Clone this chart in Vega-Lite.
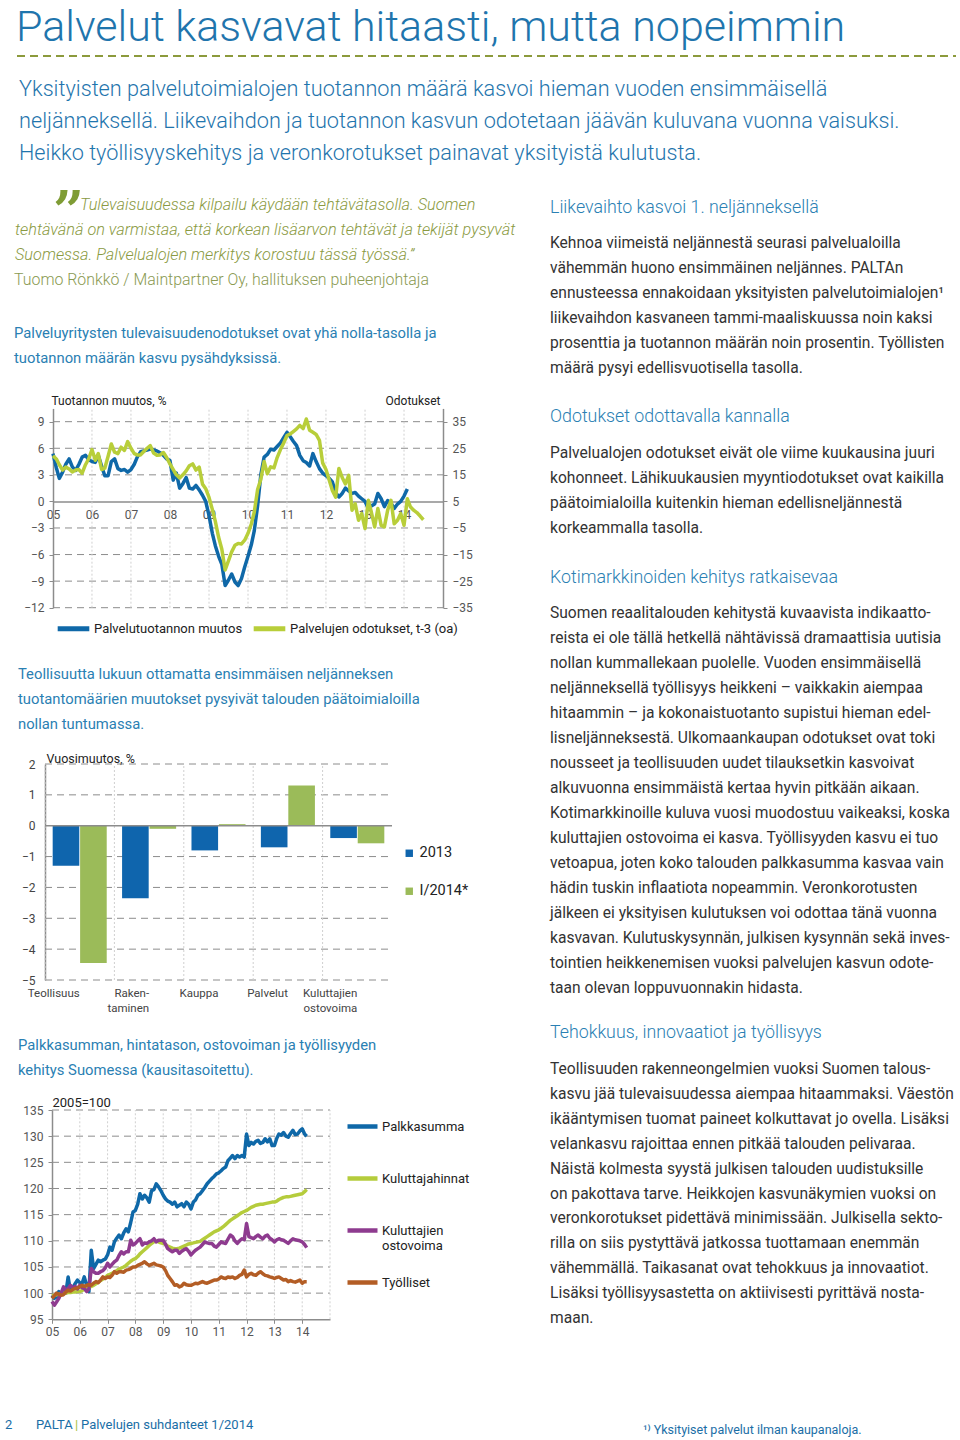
{
"$schema":"https://vega.github.io/schema/vega-lite/v6.json",
"width":960,"height":1440,"autosize":{"type":"none"},"padding":0,"background":"#ffffff",
"config":{"view":{"stroke":null},"font":"Roboto","text":{"font":"Roboto"},"axis":{"labelFont":"Roboto","titleFont":"Roboto","grid":false},"legend":{"labelFont":"Roboto","titleFont":"Roboto"}},
"datasets":{
"c1":[
{"d":"2005-01","p":5.4,"o":22.2},{"d":"2005-02","p":3.8,"o":21.0},{"d":"2005-03","p":2.6,"o":18.8},{"d":"2005-04","p":3.3,"o":16.8},{"d":"2005-05","p":4.2,"o":17.9},{"d":"2005-06","p":4.8,"o":17.2},{"d":"2005-07","p":3.9,"o":16.1},{"d":"2005-08","p":3.5,"o":16.8},{"d":"2005-09","p":4.2,"o":17.0},{"d":"2005-10","p":5.0,"o":15.6},{"d":"2005-11","p":5.2,"o":18.8},{"d":"2005-12","p":4.7,"o":21.0},
{"d":"2006-01","p":4.5,"o":24.5},{"d":"2006-02","p":4.4,"o":20.5},{"d":"2006-03","p":5.2,"o":23.0},{"d":"2006-04","p":4.0,"o":17.0},{"d":"2006-05","p":2.9,"o":17.5},{"d":"2006-06","p":2.9,"o":22.0},{"d":"2006-07","p":4.5,"o":26.6},{"d":"2006-08","p":4.8,"o":23.5},{"d":"2006-09","p":3.7,"o":23.0},{"d":"2006-10","p":3.5,"o":25.4},{"d":"2006-11","p":3.6,"o":24.2},{"d":"2006-12","p":3.3,"o":27.5},
{"d":"2007-01","p":3.6,"o":25.0},{"d":"2007-02","p":4.2,"o":23.0},{"d":"2007-03","p":5.0,"o":22.5},{"d":"2007-04","p":5.6,"o":22.5},{"d":"2007-05","p":5.7,"o":23.8},{"d":"2007-06","p":5.8,"o":25.0},{"d":"2007-07","p":5.9,"o":26.0},{"d":"2007-08","p":5.8,"o":23.2},{"d":"2007-09","p":5.7,"o":22.4},{"d":"2007-10","p":5.5,"o":22.5},{"d":"2007-11","p":5.2,"o":23.4},{"d":"2007-12","p":4.8,"o":21.5},
{"d":"2008-01","p":4.6,"o":19.1},{"d":"2008-02","p":2.4,"o":17.0},{"d":"2008-03","p":3.2,"o":15.0},{"d":"2008-04","p":1.5,"o":13.8},{"d":"2008-05","p":2.0,"o":15.0},{"d":"2008-06","p":2.7,"o":16.5},{"d":"2008-07","p":1.5,"o":18.4},{"d":"2008-08","p":1.4,"o":19.1},{"d":"2008-09","p":1.8,"o":16.8},{"d":"2008-10","p":1.3,"o":17.9},{"d":"2008-11","p":0.7,"o":11.5},{"d":"2008-12","p":0.0,"o":9.8},
{"d":"2009-01","p":-1.6,"o":6.5},{"d":"2009-02","p":-3.6,"o":2.0},{"d":"2009-03","p":-5.0,"o":-2.5},{"d":"2009-04","p":-6.2,"o":-8.5},{"d":"2009-05","p":-7.1,"o":-13.0},{"d":"2009-06","p":-9.5,"o":-20.8},{"d":"2009-07","p":-8.9,"o":-17.5},{"d":"2009-08","p":-8.2,"o":-14.0},{"d":"2009-09","p":-9.1,"o":-11.5},{"d":"2009-10","p":-9.5,"o":-10.8},{"d":"2009-11","p":-8.7,"o":-11.0},{"d":"2009-12","p":-7.4,"o":-9.6},
{"d":"2010-01","p":-6.2,"o":-7.0},{"d":"2010-02","p":-4.9,"o":-3.5},{"d":"2010-03","p":-3.3,"o":1.0},{"d":"2010-04","p":-0.5,"o":9.5},{"d":"2010-05","p":3.0,"o":13.3},{"d":"2010-06","p":5.0,"o":20.0},{"d":"2010-07","p":5.3,"o":15.4},{"d":"2010-08","p":5.9,"o":18.0},{"d":"2010-09","p":5.8,"o":17.6},{"d":"2010-10","p":6.2,"o":21.5},{"d":"2010-11","p":6.6,"o":24.5},{"d":"2010-12","p":7.2,"o":27.0},
{"d":"2011-01","p":7.8,"o":29.8},{"d":"2011-02","p":7.3,"o":30.4},{"d":"2011-03","p":6.8,"o":31.3},{"d":"2011-04","p":6.3,"o":32.3},{"d":"2011-05","p":5.2,"o":33.6},{"d":"2011-06","p":4.6,"o":32.4},{"d":"2011-07","p":4.4,"o":36.0},{"d":"2011-08","p":4.0,"o":31.8},{"d":"2011-09","p":5.4,"o":31.0},{"d":"2011-10","p":4.5,"o":30.2},{"d":"2011-11","p":3.7,"o":28.0},{"d":"2011-12","p":3.2,"o":19.5},
{"d":"2012-01","p":2.9,"o":17.0},{"d":"2012-02","p":2.6,"o":13.0},{"d":"2012-03","p":2.2,"o":9.1},{"d":"2012-04","p":1.0,"o":6.6},{"d":"2012-05","p":0.5,"o":17.4},{"d":"2012-06","p":0.9,"o":14.0},{"d":"2012-07","p":1.5,"o":11.6},{"d":"2012-08","p":1.2,"o":14.8},{"d":"2012-09","p":0.9,"o":1.7},{"d":"2012-10","p":1.0,"o":4.1},{"d":"2012-11","p":0.6,"o":-2.1},{"d":"2012-12","p":0.3,"o":0.4},
{"d":"2013-01","p":0.0,"o":-5.2},{"d":"2013-02","p":-0.8,"o":5.4},{"d":"2013-03","p":-0.5,"o":1.0},{"d":"2013-04","p":-0.3,"o":-4.6},{"d":"2013-05","p":0.9,"o":2.3},{"d":"2013-06","p":0.3,"o":-4.0},{"d":"2013-07","p":-0.6,"o":-4.6},{"d":"2013-08","p":0.1,"o":1.7},{"d":"2013-09","p":-0.2,"o":5.4},{"d":"2013-10","p":-0.8,"o":-3.4},{"d":"2013-11","p":-0.3,"o":-2.1},{"d":"2013-12","p":0.0,"o":0.4},
{"d":"2014-01","p":0.6,"o":-4.0},{"d":"2014-02","p":1.4,"o":6.0},{"d":"2014-03","o":3.0},{"d":"2014-04","o":1.7},{"d":"2014-05","o":0.8},{"d":"2014-06","o":-0.5},{"d":"2014-07","o":-1.9}
],
"c3":[
{"d":"2005-01","pk":99.6,"kh":99.5,"ko":98.4,"ty":99.0},{"d":"2005-02","pk":99.0,"kh":99.6,"ko":97.7,"ty":99.5},{"d":"2005-03","pk":99.3,"kh":99.7,"ko":98.3,"ty":100.0},{"d":"2005-04","pk":100.3,"kh":99.8,"ko":99.0,"ty":99.8},{"d":"2005-05","pk":99.8,"kh":99.9,"ko":100.0,"ty":99.6},{"d":"2005-06","pk":100.6,"kh":100.0,"ko":101.2,"ty":99.7},{"d":"2005-07","pk":100.0,"kh":100.0,"ko":100.6,"ty":100.2},{"d":"2005-08","pk":103.1,"kh":100.1,"ko":100.9,"ty":100.6},{"d":"2005-09","pk":100.3,"kh":100.1,"ko":101.5,"ty":100.4},{"d":"2005-10","pk":101.0,"kh":100.2,"ko":101.0,"ty":100.7},{"d":"2005-11","pk":101.8,"kh":100.2,"ko":101.3,"ty":100.9},{"d":"2005-12","pk":102.5,"kh":100.3,"ko":100.8,"ty":101.0},
{"d":"2006-01","pk":102.0,"kh":100.3,"ko":101.5,"ty":101.2},{"d":"2006-02","pk":101.9,"kh":100.5,"ko":101.0,"ty":101.5},{"d":"2006-03","pk":103.1,"kh":100.7,"ko":100.9,"ty":101.3},{"d":"2006-04","pk":101.5,"kh":100.9,"ko":100.3,"ty":101.5},{"d":"2006-05","pk":100.3,"kh":101.1,"ko":100.8,"ty":101.6},{"d":"2006-06","pk":108.2,"kh":101.3,"ko":104.7,"ty":101.5},{"d":"2006-07","pk":104.7,"kh":101.5,"ko":104.1,"ty":101.9},{"d":"2006-08","pk":105.5,"kh":101.8,"ko":103.8,"ty":102.2},{"d":"2006-09","pk":106.3,"kh":102.1,"ko":103.8,"ty":102.0},{"d":"2006-10","pk":106.0,"kh":102.4,"ko":104.1,"ty":102.5},{"d":"2006-11","pk":106.3,"kh":102.7,"ko":104.3,"ty":103.1},{"d":"2006-12","pk":106.5,"kh":103.0,"ko":104.8,"ty":102.8},
{"d":"2007-01","pk":107.3,"kh":103.4,"ko":105.7,"ty":103.1},{"d":"2007-02","pk":108.8,"kh":103.6,"ko":105.0,"ty":103.0},{"d":"2007-03","pk":108.2,"kh":103.8,"ko":105.5,"ty":103.4},{"d":"2007-04","pk":109.8,"kh":104.0,"ko":106.0,"ty":104.1},{"d":"2007-05","pk":110.5,"kh":104.3,"ko":106.3,"ty":103.8},{"d":"2007-06","pk":111.1,"kh":104.6,"ko":107.2,"ty":104.1},{"d":"2007-07","pk":110.4,"kh":104.8,"ko":107.9,"ty":104.1},{"d":"2007-08","pk":111.5,"kh":105.0,"ko":107.5,"ty":104.0},{"d":"2007-09","pk":112.3,"kh":105.3,"ko":107.9,"ty":104.4},{"d":"2007-10","pk":111.7,"kh":105.7,"ko":107.9,"ty":104.5},{"d":"2007-11","pk":113.5,"kh":106.1,"ko":110.1,"ty":104.7},{"d":"2007-12","pk":115.5,"kh":106.4,"ko":109.2,"ty":105.0},
{"d":"2008-01","pk":115.8,"kh":106.6,"ko":109.5,"ty":105.0},{"d":"2008-02","pk":117.0,"kh":107.0,"ko":110.0,"ty":105.3},{"d":"2008-03","pk":119.0,"kh":107.5,"ko":110.4,"ty":105.5},{"d":"2008-04","pk":118.0,"kh":107.9,"ko":109.2,"ty":105.7},{"d":"2008-05","pk":118.7,"kh":108.3,"ko":109.6,"ty":106.0},{"d":"2008-06","pk":118.2,"kh":108.7,"ko":109.5,"ty":105.6},{"d":"2008-07","pk":117.4,"kh":109.1,"ko":109.8,"ty":105.3},{"d":"2008-08","pk":119.6,"kh":109.5,"ko":110.0,"ty":105.5},{"d":"2008-09","pk":119.8,"kh":109.8,"ko":110.4,"ty":105.7},{"d":"2008-10","pk":120.9,"kh":109.9,"ko":109.8,"ty":105.4},{"d":"2008-11","pk":120.3,"kh":109.8,"ko":110.1,"ty":105.3},{"d":"2008-12","pk":119.6,"kh":109.6,"ko":110.1,"ty":105.2},
{"d":"2009-01","pk":118.7,"kh":109.5,"ko":110.1,"ty":105.0},{"d":"2009-02","pk":118.0,"kh":109.3,"ko":109.3,"ty":104.3},{"d":"2009-03","pk":117.6,"kh":109.0,"ko":108.5,"ty":103.4},{"d":"2009-04","pk":117.4,"kh":108.8,"ko":108.2,"ty":102.8},{"d":"2009-05","pk":117.0,"kh":108.6,"ko":107.9,"ty":102.2},{"d":"2009-06","pk":117.4,"kh":108.5,"ko":108.2,"ty":101.5},{"d":"2009-07","pk":116.5,"kh":108.5,"ko":108.2,"ty":101.6},{"d":"2009-08","pk":116.8,"kh":108.6,"ko":107.6,"ty":101.2},{"d":"2009-09","pk":117.1,"kh":108.8,"ko":108.0,"ty":101.4},{"d":"2009-10","pk":116.5,"kh":109.0,"ko":108.3,"ty":101.9},{"d":"2009-11","pk":117.4,"kh":109.2,"ko":108.5,"ty":101.6},{"d":"2009-12","pk":117.0,"kh":109.4,"ko":108.0,"ty":101.5},
{"d":"2010-01","pk":116.1,"kh":109.5,"ko":107.3,"ty":101.5},{"d":"2010-02","pk":117.4,"kh":109.6,"ko":107.8,"ty":101.7},{"d":"2010-03","pk":117.8,"kh":109.7,"ko":108.2,"ty":101.9},{"d":"2010-04","pk":118.7,"kh":109.8,"ko":108.5,"ty":101.8},{"d":"2010-05","pk":119.0,"kh":109.9,"ko":108.8,"ty":102.0},{"d":"2010-06","pk":119.6,"kh":110.2,"ko":109.3,"ty":102.2},{"d":"2010-07","pk":120.2,"kh":110.5,"ko":109.8,"ty":102.0},{"d":"2010-08","pk":120.9,"kh":110.8,"ko":109.6,"ty":101.9},{"d":"2010-09","pk":121.4,"kh":111.1,"ko":109.5,"ty":102.1},{"d":"2010-10","pk":121.9,"kh":111.4,"ko":109.5,"ty":102.3},{"d":"2010-11","pk":122.3,"kh":111.7,"ko":109.0,"ty":102.5},{"d":"2010-12","pk":122.8,"kh":111.9,"ko":108.8,"ty":102.5},
{"d":"2011-01","pk":123.0,"kh":112.1,"ko":109.3,"ty":102.7},{"d":"2011-02","pk":123.4,"kh":112.4,"ko":109.8,"ty":103.1},{"d":"2011-03","pk":123.8,"kh":112.7,"ko":109.6,"ty":102.9},{"d":"2011-04","pk":124.1,"kh":113.1,"ko":109.5,"ty":102.8},{"d":"2011-05","pk":125.3,"kh":113.5,"ko":110.3,"ty":103.1},{"d":"2011-06","pk":125.8,"kh":113.9,"ko":111.1,"ty":103.0},{"d":"2011-07","pk":126.3,"kh":114.2,"ko":110.8,"ty":103.1},{"d":"2011-08","pk":125.7,"kh":114.5,"ko":110.0,"ty":102.8},{"d":"2011-09","pk":126.3,"kh":114.8,"ko":109.5,"ty":103.0},{"d":"2011-10","pk":126.0,"kh":115.1,"ko":110.0,"ty":103.4},{"d":"2011-11","pk":126.3,"kh":115.4,"ko":110.4,"ty":103.6},{"d":"2011-12","pk":126.0,"kh":115.6,"ko":110.2,"ty":104.4},
{"d":"2012-01","pk":130.4,"kh":115.8,"ko":113.3,"ty":103.1},{"d":"2012-02","pk":128.2,"kh":116.1,"ko":110.8,"ty":103.6},{"d":"2012-03","pk":128.8,"kh":116.4,"ko":110.6,"ty":103.8},{"d":"2012-04","pk":128.5,"kh":116.6,"ko":110.4,"ty":103.5},{"d":"2012-05","pk":129.0,"kh":116.8,"ko":110.8,"ty":103.4},{"d":"2012-06","pk":129.2,"kh":116.9,"ko":111.1,"ty":103.8},{"d":"2012-07","pk":128.6,"kh":117.0,"ko":110.7,"ty":104.1},{"d":"2012-08","pk":128.8,"kh":117.0,"ko":110.4,"ty":103.7},{"d":"2012-09","pk":129.5,"kh":117.1,"ko":110.9,"ty":103.4},{"d":"2012-10","pk":128.9,"kh":117.2,"ko":111.1,"ty":103.3},{"d":"2012-11","pk":129.5,"kh":117.3,"ko":110.5,"ty":103.1},{"d":"2012-12","pk":128.2,"kh":117.4,"ko":110.2,"ty":103.0},
{"d":"2013-01","pk":128.2,"kh":117.4,"ko":109.8,"ty":102.8},{"d":"2013-02","pk":129.6,"kh":117.6,"ko":110.2,"ty":103.0},{"d":"2013-03","pk":130.4,"kh":117.9,"ko":110.4,"ty":103.1},{"d":"2013-04","pk":130.2,"kh":118.1,"ko":110.2,"ty":102.8},{"d":"2013-05","pk":130.7,"kh":118.3,"ko":110.1,"ty":102.5},{"d":"2013-06","pk":130.0,"kh":118.4,"ko":109.8,"ty":102.6},{"d":"2013-07","pk":129.8,"kh":118.4,"ko":109.5,"ty":102.2},{"d":"2013-08","pk":130.5,"kh":118.5,"ko":110.0,"ty":102.4},{"d":"2013-09","pk":131.1,"kh":118.6,"ko":110.4,"ty":102.2},{"d":"2013-10","pk":130.3,"kh":118.7,"ko":110.2,"ty":102.1},{"d":"2013-11","pk":130.4,"kh":118.8,"ko":110.1,"ty":102.3},{"d":"2013-12","pk":131.0,"kh":118.9,"ko":110.0,"ty":102.5},
{"d":"2014-01","pk":131.4,"kh":119.0,"ko":109.8,"ty":101.9},{"d":"2014-02","pk":130.4,"kh":119.4,"ko":109.3,"ty":102.2},{"d":"2014-03","pk":130.0,"kh":119.8,"ko":108.7,"ty":102.2}
]
},
"resolve":{"scale":{"x":"independent","y":"independent","color":"independent","xOffset":"independent"},"axis":{"x":"independent","y":"independent"},"legend":{"color":"independent"}},
"layer":[
{"data":{"values":[{"line":1,"text":"Palvelut kasvavat hitaasti, mutta nopeimmin"}]},
 "mark":{"type":"text","align":"left","baseline":"alphabetic","fontSize":43,"fontWeight":300,"color":"#1f75ad"},
 "encoding":{"x":{"value":16},"y":{"field":"line","type":"ordinal","scale":{"type":"point","range":[40.5,40.5],"padding":0},"axis":null},"text":{"field":"text"}}},
{"data":{"values":[{"line":1}]},
 "mark":{"type":"rule","color":"#8c9a3c","strokeWidth":2,"strokeDash":[8,5]},
 "encoding":{"y":{"field":"line","type":"ordinal","scale":{"type":"point","range":[56,56],"padding":0},"axis":null},
  "x":{"datum":0,"type":"quantitative","scale":{"domain":[0,1],"range":[17,956]},"axis":null},"x2":{"datum":1}}},
{"data":{"values":[{"line":1,"text":"Yksityisten palvelutoimialojen tuotannon määrä kasvoi hieman vuoden ensimmäisellä"},{"line":2,"text":"neljänneksellä. Liikevaihdon ja tuotannon kasvun odotetaan jäävän kuluvana vuonna vaisuksi."},{"line":3,"text":"Heikko työllisyyskehitys ja veronkorotukset painavat yksityistä kulutusta."}]},
 "mark":{"type":"text","align":"left","baseline":"middle","fontSize":21.7,"fontWeight":300,"color":"#1f75ad"},
 "encoding":{"x":{"value":19},"y":{"field":"line","type":"ordinal","scale":{"type":"point","range":[89,153],"padding":0},"axis":null},"text":{"field":"text"}}},
{"data":{"values":[{"line":1,"text":"”"}]},
 "mark":{"type":"text","align":"left","baseline":"alphabetic","font":"DejaVu Serif","fontSize":54,"fontWeight":"bold","color":"#7f9c35"},
 "encoding":{"x":{"value":53},"y":{"field":"line","type":"ordinal","scale":{"type":"point","range":[230,230],"padding":0},"axis":null},"text":{"field":"text"}}},
{"data":{"values":[{"line":1,"text":"Tulevaisuudessa kilpailu käydään tehtävätasolla. Suomen"},{"line":2,"text":"tehtävänä on varmistaa, että korkean lisäarvon tehtävät ja tekijät pysyvät"},{"line":3,"text":"Suomessa. Palvelualojen merkitys korostuu tässä työssä.”"}]},
 "mark":{"type":"text","align":"left","baseline":"middle","fontSize":16.3,"fontWeight":300,"fontStyle":"italic","color":"#8a9a42"},
 "encoding":{"x":{"field":"line","type":"quantitative","scale":{"domain":[1,2,3],"range":[80,15,15],"zero":false,"nice":false},"axis":null},"y":{"field":"line","type":"ordinal","scale":{"type":"point","range":[205,255],"padding":0},"axis":null},"text":{"field":"text"}}},
{"data":{"values":[{"line":1,"text":"Tuomo Rönkkö / Maintpartner Oy, hallituksen puheenjohtaja"}]},
 "mark":{"type":"text","align":"left","baseline":"middle","fontSize":15.9,"fontWeight":300,"color":"#8a9a52"},
 "encoding":{"x":{"value":14},"y":{"field":"line","type":"ordinal","scale":{"type":"point","range":[280,280],"padding":0},"axis":null},"text":{"field":"text"}}},
{"data":{"values":[{"line":1,"text":"Palveluyritysten tulevaisuudenodotukset ovat yhä nolla-tasolla ja"},{"line":2,"text":"tuotannon määrän kasvu pysähdyksissä."},{"line":3,"text":"Teollisuutta lukuun ottamatta ensimmäisen neljänneksen"},{"line":4,"text":"tuotantomäärien muutokset pysyivät talouden päätoimialoilla"},{"line":5,"text":"nollan tuntumassa."},{"line":6,"text":"Palkkasumman, hintatason, ostovoiman ja työllisyyden"},{"line":7,"text":"kehitys Suomessa (kausitasoitettu)."}]},
 "mark":{"type":"text","align":"left","baseline":"middle","fontSize":14.8,"fontWeight":400,"color":"#2a80b3"},
 "encoding":{"x":{"field":"line","type":"quantitative","scale":{"domain":[1,2,3,7],"range":[14,14,18,18],"zero":false,"nice":false},"axis":null},"y":{"field":"line","type":"quantitative","scale":{"domain":[1,2,3,5,6,7],"range":[334,359,675,725,1046,1071],"zero":false,"nice":false},"axis":null},"text":{"field":"text"}}},
{"data":{"values":[{"sec":1,"text":"Liikevaihto kasvoi 1. neljänneksellä"},{"sec":2,"text":"Odotukset odottavalla kannalla"},{"sec":3,"text":"Kotimarkkinoiden kehitys ratkaisevaa"},{"sec":4,"text":"Tehokkuus, innovaatiot ja työllisyys"}]},
 "mark":{"type":"text","align":"left","baseline":"middle","fontSize":17.8,"fontWeight":300,"color":"#2a80b3"},
 "encoding":{"x":{"value":550},"y":{"field":"sec","type":"quantitative","scale":{"domain":[1,2,3,4],"range":[208,417,578,1033],"zero":false,"nice":false},"axis":null},"text":{"field":"text"}}},
{"data":{"values":[
 {"line":1,"text":"Kehnoa viimeistä neljännestä seurasi palvelualoilla"},
 {"line":2,"text":"vähemmän huono ensimmäinen neljännes. PALTAn"},
 {"line":3,"text":"ennusteessa ennakoidaan yksityisten palvelutoimialojen¹"},
 {"line":4,"text":"liikevaihdon kasvaneen tammi-maaliskuussa noin kaksi"},
 {"line":5,"text":"prosenttia ja tuotannon määrän noin prosentin. Työllisten"},
 {"line":6,"text":"määrä pysyi edellisvuotisella tasolla."},
 {"line":7,"text":"Palvelualojen odotukset eivät ole viime kuukausina juuri"},
 {"line":8,"text":"kohonneet. Lähikuukausien myyntiodotukset ovat kaikilla"},
 {"line":9,"text":"päätoimialoilla kuitenkin hieman edellisneljännestä"},
 {"line":10,"text":"korkeammalla tasolla."},
 {"line":11,"text":"Suomen reaalitalouden kehitystä kuvaavista indikaatto-"},
 {"line":12,"text":"reista ei ole tällä hetkellä nähtävissä dramaattisia uutisia"},
 {"line":13,"text":"nollan kummallekaan puolelle. Vuoden ensimmäisellä"},
 {"line":14,"text":"neljänneksellä työllisyys heikkeni – vaikkakin aiempaa"},
 {"line":15,"text":"hitaammin – ja kokonaistuotanto supistui hieman edel-"},
 {"line":16,"text":"lisneljänneksestä. Ulkomaankaupan odotukset ovat toki"},
 {"line":17,"text":"nousseet ja teollisuuden uudet tilauksetkin kasvoivat"},
 {"line":18,"text":"alkuvuonna ensimmäistä kertaa hyvin pitkään aikaan."},
 {"line":19,"text":"Kotimarkkinoille kuluva vuosi muodostuu vaikeaksi, koska"},
 {"line":20,"text":"kuluttajien ostovoima ei kasva. Työllisyyden kasvu ei tuo"},
 {"line":21,"text":"vetoapua, joten koko talouden palkkasumma kasvaa vain"},
 {"line":22,"text":"hädin tuskin inflaatiota nopeammin. Veronkorotusten"},
 {"line":23,"text":"jälkeen ei yksityisen kulutuksen voi odottaa tänä vuonna"},
 {"line":24,"text":"kasvavan. Kulutuskysynnän, julkisen kysynnän sekä inves-"},
 {"line":25,"text":"tointien heikkenemisen vuoksi palvelujen kasvun odote-"},
 {"line":26,"text":"taan olevan loppuvuonnakin hidasta."},
 {"line":27,"text":"Teollisuuden rakenneongelmien vuoksi Suomen talous-"},
 {"line":28,"text":"kasvu jää tulevaisuudessa aiempaa hitaammaksi. Väestön"},
 {"line":29,"text":"ikääntymisen tuomat paineet kolkuttavat jo ovella. Lisäksi"},
 {"line":30,"text":"velankasvu rajoittaa ennen pitkää talouden pelivaraa."},
 {"line":31,"text":"Näistä kolmesta syystä julkisen talouden uudistuksille"},
 {"line":32,"text":"on pakottava tarve. Heikkojen kasvunäkymien vuoksi on"},
 {"line":33,"text":"veronkorotukset pidettävä minimissään. Julkisella sekto-"},
 {"line":34,"text":"rilla on siis pystyttävä jatkossa tuottamaan enemmän"},
 {"line":35,"text":"vähemmällä. Taikasanat ovat tehokkuus ja innovaatiot."},
 {"line":36,"text":"Lisäksi työllisyysastetta on aktiivisesti pyrittävä nosta-"},
 {"line":37,"text":"maan."}]},
 "mark":{"type":"text","align":"left","baseline":"middle","fontSize":15.6,"fontWeight":400,"color":"#333333"},
 "encoding":{"x":{"value":550},"y":{"field":"line","type":"quantitative","scale":{"domain":[1,6,7,10,11,26,27,37],"range":[243,368,453,528,613,988,1069,1318],"zero":false,"nice":false},"axis":null},"text":{"field":"text"}}},
{"data":{"values":[{"i":1,"text":"2"},{"i":2,"text":"PALTA"},{"i":3,"text":"|"},{"i":4,"text":"Palvelujen suhdanteet 1/2014"}]},
 "mark":{"type":"text","align":"left","baseline":"middle","fontSize":13,"fontWeight":400},
 "encoding":{"x":{"field":"i","type":"quantitative","scale":{"domain":[1,2,3,4],"range":[5,36,75,81],"zero":false,"nice":false},"axis":null},"y":{"field":"i","type":"ordinal","scale":{"type":"point","range":[1425,1425],"padding":0},"axis":null},"text":{"field":"text"},
  "color":{"condition":{"test":"datum.i == 3","value":"#a9c23f"},"value":"#1a6ea6"}}},
{"data":{"values":[{"line":1,"text":"¹⁾ Yksityiset palvelut ilman kaupanaloja."}]},
 "mark":{"type":"text","align":"left","baseline":"middle","fontSize":12.5,"fontWeight":400,"color":"#1a6ea6"},
 "encoding":{"x":{"value":643},"y":{"field":"line","type":"ordinal","scale":{"type":"point","range":[1430,1430],"padding":0},"axis":null},"text":{"field":"text"}}},

{"data":{"name":"c1"},
 "resolve":{"scale":{"y":"independent"},"axis":{"y":"independent"}},
 "layer":[
  {"layer":[
    {"data":{"values":[{"v":-12},{"v":-9},{"v":-6},{"v":-3},{"v":3},{"v":6},{"v":9}]},
     "mark":{"type":"rule","color":"#8c8c8c","strokeWidth":1,"strokeDash":[7,5]},
     "encoding":{"y":{"field":"v","type":"quantitative","scale":{"domain":[-12,10.5],"range":[607.7,408.4],"zero":false,"nice":false}},
      "x":{"datum":{"year":2005},"type":"temporal","scale":{"domain":[{"year":2005},{"year":2015}],"range":[53,443]}},"x2":{"datum":{"year":2015}}}},
    {"data":{"values":[{"yr":"2006-01-01"},{"yr":"2007-01-01"},{"yr":"2008-01-01"},{"yr":"2009-01-01"},{"yr":"2010-01-01"},{"yr":"2011-01-01"},{"yr":"2012-01-01"},{"yr":"2013-01-01"},{"yr":"2014-01-01"}]},
     "mark":{"type":"rule","color":"#d0d0d0","strokeWidth":1,"strokeDash":[2,2]},
     "encoding":{"x":{"field":"yr","type":"temporal","scale":{"domain":[{"year":2005},{"year":2015}],"range":[53,443]}},
      "y":{"datum":-12,"type":"quantitative","scale":{"domain":[-12,10.5],"range":[607.7,408.4],"zero":false,"nice":false}},"y2":{"datum":10.5}}},
    {"mark":{"type":"line","strokeWidth":3.5,"strokeJoin":"round"},
     "encoding":{
      "x":{"field":"d","type":"temporal","scale":{"domain":[{"year":2005},{"year":2015}],"range":[53,443]},
        "axis":{"orient":"bottom","offset":-938.6,"values":[{"year":2005},{"year":2006},{"year":2007},{"year":2008},{"year":2009},{"year":2010},{"year":2011},{"year":2012},{"year":2013},{"year":2014}],"format":"%y","labelAlign":"center","labelPadding":8,"ticks":false,"domainColor":"#8c8c8c","domainWidth":1.5,"labelFontSize":12,"labelColor":"#555555","title":null,"grid":false,"labelFlush":false,"labelOverlap":false}},
      "y":{"field":"p","type":"quantitative","scale":{"domain":[-12,10.5],"range":[607.7,408.4],"zero":false,"nice":false},
        "axis":{"orient":"left","offset":-53,"values":[-12,-9,-6,-3,0,3,6,9],"format":"d","domainColor":"#8c8c8c","domainWidth":1.5,"tickColor":"#8c8c8c","tickSize":4,"labelPadding":5,"labelFontSize":12,"labelColor":"#555555","grid":false,
          "title":"Tuotannon muutos, %","titleAngle":0,"titleAlign":"left","titleBaseline":"alphabetic","titleX":-2,"titleY":404,"titleFontSize":12,"titleFontWeight":"normal","titleColor":"#222222"}},
      "color":{"datum":"Palvelutuotannon muutos","type":"nominal","scale":{"domain":["Palvelutuotannon muutos","Palvelujen odotukset, t-3 (oa)"],"range":["#0f68a8","#b8ce3a"]},
        "legend":{"orient":"none","legendX":55,"legendY":610,"direction":"horizontal","title":null,"symbolType":"stroke","symbolStrokeWidth":5,"symbolSize":1000,"labelFontSize":13,"labelColor":"#222222","columnPadding":0,"labelOffset":2,"labelLimit":300}}}}
  ]},
  {"mark":{"type":"line","strokeWidth":3.5,"strokeJoin":"round"},
   "encoding":{
    "x":{"field":"d","type":"temporal","scale":{"domain":[{"year":2005},{"year":2015}],"range":[53,443]}},
    "y":{"field":"o","type":"quantitative","scale":{"domain":[-35,40],"range":[607.7,408.4],"zero":false,"nice":false},
      "axis":{"orient":"right","offset":-517,"values":[-35,-25,-15,-5,5,15,25,35],"format":"d","domainColor":"#8c8c8c","domainWidth":1.5,"tickColor":"#8c8c8c","tickSize":4,"labelPadding":5,"labelFontSize":12,"labelColor":"#555555","grid":false,
        "title":"Odotukset","titleAngle":0,"titleAlign":"right","titleBaseline":"alphabetic","titleX":-3,"titleY":404,"titleFontSize":12,"titleFontWeight":"normal","titleColor":"#222222"}},
    "color":{"datum":"Palvelujen odotukset, t-3 (oa)","type":"nominal"}}}
 ]},

{"data":{"values":[{"cat":"Teollisuus","year":"2013","val":-1.3},{"cat":"Teollisuus","year":"I/2014*","val":-4.45},{"cat":"Rakentaminen","year":"2013","val":-2.35},{"cat":"Rakentaminen","year":"I/2014*","val":-0.1},{"cat":"Kauppa","year":"2013","val":-0.8},{"cat":"Kauppa","year":"I/2014*","val":0.05},{"cat":"Palvelut","year":"2013","val":-0.7},{"cat":"Palvelut","year":"I/2014*","val":1.3},{"cat":"Kuluttajien ostovoima","year":"2013","val":-0.4},{"cat":"Kuluttajien ostovoima","year":"I/2014*","val":-0.57}]},
 "resolve":{"scale":{"x":"independent"},"axis":{"x":"independent"}},
 "layer":[
  {"data":{"values":[{"v":2},{"v":1},{"v":-1},{"v":-2},{"v":-3},{"v":-4},{"v":-5}]},
   "mark":{"type":"rule","color":"#8c8c8c","strokeWidth":1,"strokeDash":[7,5]},
   "encoding":{"y":{"field":"v","type":"quantitative","scale":{"domain":[-5,2],"range":[980,764],"zero":false,"nice":false}},
    "x":{"datum":0,"type":"quantitative","scale":{"domain":[0,1],"range":[45,392]},"axis":null},"x2":{"datum":1}}},
  {"layer":[
    {"transform":[{"filter":"datum.year == '2013'"}],
     "mark":{"type":"rule","color":"#cfcfcf","strokeWidth":1,"strokeDash":[2,2]},
     "encoding":{"x":{"field":"cat","type":"nominal","bandPosition":0,"scale":{"domain":["Teollisuus","Rakentaminen","Kauppa","Palvelut","Kuluttajien ostovoima"],"range":[45,392],"paddingInner":0,"paddingOuter":0}},
      "y":{"datum":-5,"type":"quantitative","scale":{"domain":[-5,2],"range":[980,764],"zero":false,"nice":false}},"y2":{"datum":2}}},
    {"mark":{"type":"bar"},
     "encoding":{
      "x":{"field":"cat","type":"nominal","scale":{"domain":["Teollisuus","Rakentaminen","Kauppa","Palvelut","Kuluttajien ostovoima"],"range":[45,392],"paddingInner":0,"paddingOuter":0},
        "axis":{"orient":"bottom","offset":-460,"domain":false,"ticks":false,"labelPadding":7,"labelFontSize":11.5,"labelColor":"#444444","labelAngle":0,"labelBaseline":"top","labelLineHeight":15,"title":null,"grid":false,
          "labelExpr":"datum.value == 'Rakentaminen' ? ['Raken-','taminen'] : datum.value == 'Kuluttajien ostovoima' ? ['Kuluttajien','ostovoima'] : datum.value"}},
      "xOffset":{"field":"year","type":"nominal","scale":{"domain":["2013","I/2014*"],"paddingOuter":0.28,"paddingInner":0.03}},
      "y":{"field":"val","type":"quantitative","scale":{"domain":[-5,2],"range":[980,764],"zero":false,"nice":false},
        "axis":{"orient":"left","offset":-45,"values":[-5,-4,-3,-2,-1,0,1,2],"format":"d","domainColor":"#8c8c8c","domainWidth":1.5,"ticks":false,"labelPadding":10,"labelFontSize":12,"labelColor":"#444444","grid":false,
          "title":"Vuosimuutos, %","titleAngle":0,"titleAlign":"left","titleBaseline":"alphabetic","titleX":1,"titleY":762,"titleFontSize":12.5,"titleFontWeight":"normal","titleColor":"#222222"}},
      "color":{"field":"year","type":"nominal","scale":{"domain":["2013","I/2014*"],"range":["#0f65ad","#9bbb59"]},
        "legend":{"orient":"none","legendX":402,"legendY":846,"title":null,"symbolType":"square","symbolSize":55,"labelFontSize":14.5,"labelColor":"#222222","rowPadding":23,"labelOffset":3}}}}
  ]},
  {"data":{"values":[{"v":0}]},
   "mark":{"type":"rule","color":"#8c8c8c","strokeWidth":1.5},
   "encoding":{"y":{"field":"v","type":"quantitative","scale":{"domain":[-5,2],"range":[980,764],"zero":false,"nice":false}},
    "x":{"datum":0,"type":"quantitative","scale":{"domain":[0,1],"range":[45,392]},"axis":null},"x2":{"datum":1}}}
 ]},

{"data":{"name":"c3"},
 "layer":[
  {"data":{"values":[{"v":100},{"v":105},{"v":110},{"v":115},{"v":120},{"v":125},{"v":130},{"v":135}]},
   "mark":{"type":"rule","color":"#8c8c8c","strokeWidth":1,"strokeDash":[7,5]},
   "encoding":{"y":{"field":"v","type":"quantitative","scale":{"domain":[95,135],"range":[1319.3,1110],"zero":false,"nice":false}},
    "x":{"datum":{"year":2005},"type":"temporal","scale":{"domain":[{"year":2005},{"year":2015}],"range":[52,330]}},"x2":{"datum":{"year":2015}}}},
  {"data":{"values":[{"yr":"2006-01-01"},{"yr":"2007-01-01"},{"yr":"2008-01-01"},{"yr":"2009-01-01"},{"yr":"2010-01-01"},{"yr":"2011-01-01"},{"yr":"2012-01-01"},{"yr":"2013-01-01"},{"yr":"2014-01-01"},{"yr":"2015-01-01"}]},
   "mark":{"type":"rule","color":"#d0d0d0","strokeWidth":1,"strokeDash":[2,2]},
   "encoding":{"x":{"field":"yr","type":"temporal","scale":{"domain":[{"year":2005},{"year":2015}],"range":[52,330]}},
    "y":{"datum":95,"type":"quantitative","scale":{"domain":[95,135],"range":[1319.3,1110],"zero":false,"nice":false}},"y2":{"datum":135}}},
  {"transform":[{"fold":["pk","kh","ko","ty"],"as":["s","val"]}],
   "mark":{"type":"line","strokeWidth":3.5,"strokeJoin":"round"},
   "encoding":{
    "x":{"field":"d","type":"temporal","scale":{"domain":[{"year":2005},{"year":2015}],"range":[52,330]},
      "axis":{"orient":"bottom","offset":-120.7,"values":[{"year":2005},{"year":2006},{"year":2007},{"year":2008},{"year":2009},{"year":2010},{"year":2011},{"year":2012},{"year":2013},{"year":2014}],"format":"%y","labelAlign":"center","labelPadding":3,"ticks":true,"tickSize":4,"tickColor":"#8c8c8c","domainColor":"#8c8c8c","domainWidth":1.5,"labelFontSize":12,"labelColor":"#555555","title":null,"grid":false,"labelFlush":false,"labelOverlap":false}},
    "y":{"field":"val","type":"quantitative","scale":{"domain":[95,135],"range":[1319.3,1110],"zero":false,"nice":false},
      "axis":{"orient":"left","offset":-52,"values":[95,100,105,110,115,120,125,130,135],"format":"d","domainColor":"#8c8c8c","domainWidth":1.5,"tickColor":"#8c8c8c","tickSize":4,"labelPadding":5,"labelFontSize":12,"labelColor":"#555555","grid":false,
        "title":"2005=100","titleAngle":0,"titleAlign":"left","titleBaseline":"alphabetic","titleX":0,"titleY":1106,"titleFontSize":13,"titleFontWeight":"normal","titleColor":"#222222"}},
    "color":{"field":"s","type":"nominal","scale":{"domain":["pk","kh","ko","ty"],"range":["#0f68a8","#b5cc3c","#8e3b8f","#b35d25"]},
      "legend":{"orient":"none","legendX":345,"legendY":1109,"title":null,"symbolType":"stroke","symbolStrokeWidth":4.5,"symbolSize":900,"labelFontSize":13,"labelColor":"#222222","rowPadding":12,"labelOffset":2,
        "labelExpr":"datum.label == 'pk' ? ['Palkkasumma',' '] : datum.label == 'kh' ? ['Kuluttajahinnat',' '] : datum.label == 'ko' ? ['Kuluttajien','ostovoima'] : ['Työlliset',' ']"}}}}
 ]}
]
}
